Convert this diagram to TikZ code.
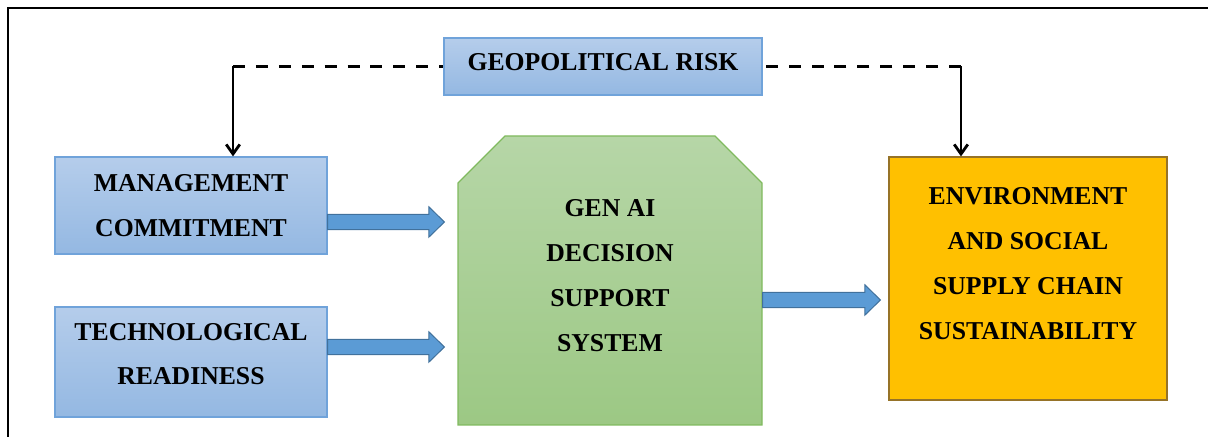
\documentclass[tikz,border=0pt]{standalone}
\usepackage{fontspec}
\setmainfont{Liberation Serif}
\usetikzlibrary{shapes.misc,arrows.meta,calc}

\definecolor{boxblue}{RGB}{181,205,235}
\definecolor{boxbluedark}{RGB}{148,184,226}
\definecolor{lineblue}{RGB}{112,163,218}
\definecolor{boxgreen}{RGB}{182,214,167}
\definecolor{boxgreendark}{RGB}{156,200,132}
\definecolor{linegreen}{RGB}{128,186,94}
\definecolor{boxorange}{RGB}{255,192,0}
\definecolor{lineorange}{RGB}{150,115,40}
\definecolor{arrowblue}{RGB}{91,155,213}
\definecolor{arrowline}{RGB}{65,113,156}

\tikzset{
    boxtext/.style={align=center, inner sep=2pt, font=\fontsize{18.3}{31.9}\selectfont\bfseries},
    bluebox/.style={boxtext, draw=lineblue, line width=0.8pt, top color=boxblue, bottom color=boxbluedark},
    greenbox/.style={boxtext, chamfered rectangle, chamfered rectangle corners={north west,north east},
        chamfered rectangle xsep=0.5875cm, chamfered rectangle ysep=0.5875cm,
        draw=linegreen, line width=0.8pt, top color=boxgreen, bottom color=boxgreendark},
    orangebox/.style={boxtext, draw=lineorange, line width=0.8pt, fill=boxorange},
    riskline/.style={line width=2pt, dash pattern=on 8.5pt off 7.8pt},
    riskarrow/.style={line width=2pt, -{Straight Barb[length=0.24cm, width=0.34cm, line width=2pt]}},
    fatarrow/.style={draw=arrowline, line width=0.7pt, fill=arrowblue, line join=miter}
}

% block arrow from #1 to #2 (same height)
\newcommand{\fatarrow}[2]{%
    \filldraw[fatarrow] ($(#1)+(0,0.19)$) -- ($(#2)+(-0.39,0.19)$) -- ($(#2)+(-0.39,0.38)$) -- (#2)
        -- ($(#2)+(-0.39,-0.38)$) -- ($(#2)+(-0.39,-0.19)$) -- ($(#1)+(0,-0.19)$) -- cycle;}

\begin{document}
\begin{tikzpicture}

    \useasboundingbox (0,0) rectangle (30.2,10.925);

    % Frame
    \draw[line width=1.5pt] (0.2,-1) |- (31,10.725);

    % Boxes
    \node[bluebox, minimum width=7.95cm, minimum height=1.425cm, text depth=0.22cm] (risk) at (15.075,9.2625) {GEOPOLITICAL RISK};
    \node[bluebox, minimum width=6.8cm, minimum height=2.425cm] (mgmt) at (4.775,5.7875) {MANAGEMENT\\COMMITMENT};
    \node[bluebox, minimum width=6.8cm, minimum height=2.75cm, text depth=0.4cm] (tech) at (4.775,1.875) {TECHNOLOGICAL\\READINESS};
    \node[greenbox, minimum width=7.6cm, minimum height=7.225cm, text depth=0.25cm] (dss) at (15.25,3.9125) {GEN AI\\DECISION\\SUPPORT\\SYSTEM};
    \node[orangebox, minimum width=6.95cm, minimum height=6.075cm, text depth=0.75cm] (escs) at (25.7,3.9625) {ENVIRONMENT\\AND SOCIAL\\SUPPLY CHAIN\\SUSTAINABILITY};

    % Risk links
    \coordinate (c1) at ($(mgmt.north)+(1.05,0)$);
    \coordinate (c2) at ($(escs.north)+(-1.675,0)$);
    \draw[riskline] (risk.west -| c1) -- (risk.west);
    \draw[riskarrow] (risk.west -| c1) -- (c1);
    \draw[riskline] (risk.east -| c2) -- (risk.east);
    \draw[riskarrow] (risk.east -| c2) -- (c2);

    % Block arrows
    \coordinate (a1) at ($(mgmt.east)+(0,-0.4125)$);
    \coordinate (b1) at ($(dss.west |- a1)+(-0.325,0)$);
    \coordinate (a2) at ($(tech.east)+(0,0.375)$);
    \coordinate (b2) at ($(dss.west |- a2)+(-0.325,0)$);
    \coordinate (a3) at ($(dss.east)+(0,-0.4875)$);
    \coordinate (b3) at ($(escs.west |- a3)+(-0.2,0)$);
    \fatarrow{a1}{b1}
    \fatarrow{a2}{b2}
    \fatarrow{a3}{b3}

\end{tikzpicture}
\end{document}
